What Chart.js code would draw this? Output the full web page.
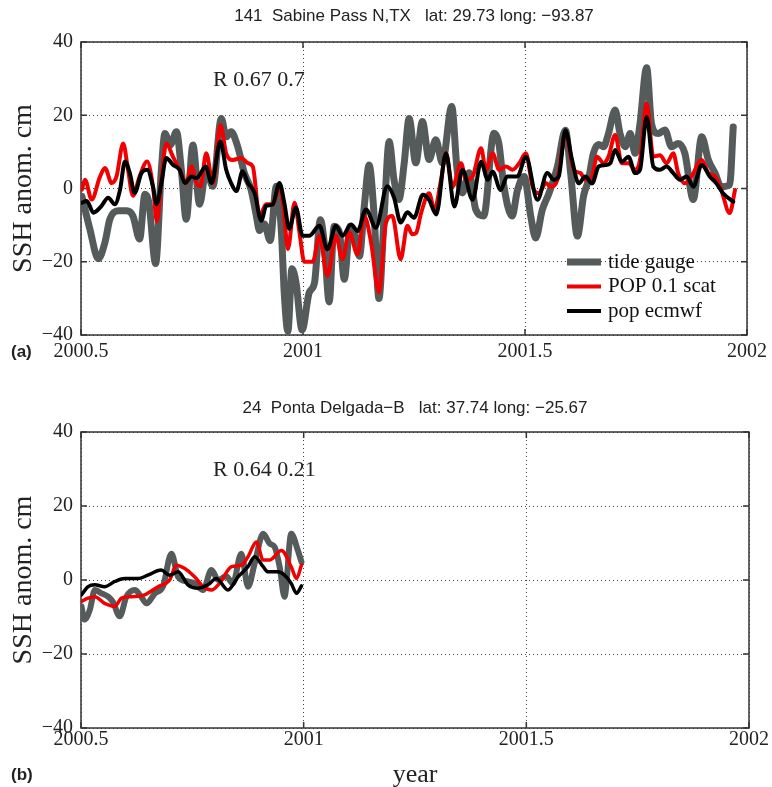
<!DOCTYPE html>
<html>
<head>
<meta charset="utf-8">
<script src="https://cdn.jsdelivr.net/npm/chart.js@4.4.0/dist/chart.umd.min.js"></script>
<style>
  body { margin: 0; background: #fff; }
  .panel { position: absolute; left: 0; width: 772px; }
  #wrapA { top: 0; height: 380px; }
  #wrapB { top: 390px; height: 397px; }
</style>
</head>
<body>
<div class="panel" id="wrapA"><canvas id="chartA" width="772" height="380"></canvas></div>
<div class="panel" id="wrapB"><canvas id="chartB" width="772" height="397"></canvas></div>
<script>
// ---- panel (a): 141 Sabine Pass ----
const sabineGaugeYears = [2000.502, 2000.520, 2000.539, 2000.554, 2000.565, 2000.584, 2000.603, 2000.617, 2000.632, 2000.644, 2000.653, 2000.668, 2000.681, 2000.689, 2000.701, 2000.715, 2000.726, 2000.737, 2000.752, 2000.767, 2000.782, 2000.797, 2000.816, 2000.827, 2000.838, 2000.853, 2000.868, 2000.883, 2000.895, 2000.902, 2000.913, 2000.926, 2000.940, 2000.951, 2000.958, 2000.966, 2000.975, 2000.984, 2000.998, 2001.014, 2001.026, 2001.039, 2001.048, 2001.059, 2001.070, 2001.082, 2001.093, 2001.106, 2001.115, 2001.127, 2001.138, 2001.149, 2001.160, 2001.171, 2001.183, 2001.194, 2001.205, 2001.216, 2001.228, 2001.239, 2001.254, 2001.269, 2001.284, 2001.299, 2001.314, 2001.335, 2001.347, 2001.359, 2001.374, 2001.389, 2001.407, 2001.430, 2001.441, 2001.452, 2001.471, 2001.483, 2001.498, 2001.513, 2001.524, 2001.539, 2001.554, 2001.573, 2001.591, 2001.603, 2001.618, 2001.632, 2001.643, 2001.654, 2001.666, 2001.677, 2001.688, 2001.703, 2001.714, 2001.726, 2001.737, 2001.748, 2001.759, 2001.774, 2001.785, 2001.800, 2001.815, 2001.830, 2001.845, 2001.860, 2001.879, 2001.898, 2001.913, 2001.928, 2001.942, 2001.961, 2001.969];
const sabineGaugeCm = [-2.1, -11.1, -19.2, -14.7, -8.4, -6.1, -6.1, -7.5, -13.8, -1.6, -3.9, -20.5, 5.1, 15.0, 11.9, 15.5, 5.1, -8.4, 11.9, -4.3, 5.1, 0.6, 19.1, 14.1, 15.5, 11.4, 4.2, -0.3, -7.5, -11.5, -9.7, -14.2, 0.6, -11.1, -29, -39, -21.9, -25.5, -38.6, -28.4, -25.7, -8.5, -15, -31, -10.3, -12, -24.8, -10.3, -12, -18.5, -4.9, 6.4, -7, -30, -7, 12.8, 2.4, -3, 7, 19.1, 7.0, 18.3, 7.9, 13.3, 7.0, 22.4, 5.2, -1.2, 4.3, -5.7, -7.5, 15.1, 12.4, 1, -7.5, -0.5, 3.3, -7.6, -13.5, -5.8, -1.3, 6, 15.9, 4, -13, -2, 2.4, 9.6, 12, 11.4, 15, 21.4, 15, 11.4, 15, 9.6, 17.7, 33, 17.7, 15, 16, 11.4, 12.3, 9.6, -3, 14.1, 7.8, 4.2, 0.5, 1, 16.8];

const sabinePopYears = [2000.502, 2000.509, 2000.524, 2000.543, 2000.554, 2000.569, 2000.580, 2000.595, 2000.606, 2000.617, 2000.632, 2000.649, 2000.662, 2000.671, 2000.681, 2000.692, 2000.707, 2000.722, 2000.737, 2000.749, 2000.760, 2000.769, 2000.782, 2000.797, 2000.814, 2000.827, 2000.842, 2000.861, 2000.876, 2000.887, 2000.902, 2000.917, 2000.932, 2000.947, 2000.956, 2000.966, 2000.981, 2000.992, 2001.003, 2001.022, 2001.037, 2001.055, 2001.074, 2001.089, 2001.104, 2001.123, 2001.138, 2001.153, 2001.171, 2001.187, 2001.201, 2001.220, 2001.235, 2001.246, 2001.255, 2001.266, 2001.284, 2001.296, 2001.311, 2001.322, 2001.337, 2001.356, 2001.367, 2001.382, 2001.401, 2001.412, 2001.427, 2001.442, 2001.457, 2001.472, 2001.487, 2001.502, 2001.517, 2001.531, 2001.547, 2001.558, 2001.573, 2001.591, 2001.610, 2001.625, 2001.636, 2001.651, 2001.662, 2001.677, 2001.688, 2001.703, 2001.718, 2001.733, 2001.748, 2001.759, 2001.774, 2001.789, 2001.804, 2001.819, 2001.834, 2001.845, 2001.860, 2001.875, 2001.898, 2001.913, 2001.928, 2001.942, 2001.961, 2001.973];
const sabinePopCm = [-0.3, 2.4, -3, 3.3, 5.6, 1.5, 3.3, 12.3, 5.1, -2, 3.3, 7.4, 0.6, -9, 2.4, 12.3, 8.7, 5.1, 1.5, 6, 1.5, 0.6, 9.6, 1.5, 17.3, 9.6, 7.8, 8.3, 6.9, 6, -7.5, -4.3, -4.3, 0.6, -5, -16.5, -3.9, -12, -20, -20, -12.9, -23.8, -12.9, -19.3, -12, -18, -7.5, -14.5, -28.3, -9.3, -7.5, -19.3, -10.2, -12.5, -12.1, -6.7, -1.3, -5.8, 2.4, 9.6, 0.5, 6.9, 2.4, 3.3, 11, 5.1, 9.6, 5.1, 6, 5.1, 6.9, 9.6, 0.5, -1.3, 1.5, 0.5, 2.4, 15, 5.1, 4.2, 2.4, 3.3, 8.7, 6.9, 8.7, 14.6, 6.9, 6.9, 5.1, 7.8, 23.2, 8.7, 9.1, 6.9, 9.6, 4.2, 1.4, 3.3, 7.8, 4.2, 3.3, -0.4, -6.7, -0.4];

const sabineEcmwfYears = [2000.502, 2000.513, 2000.528, 2000.546, 2000.561, 2000.576, 2000.588, 2000.599, 2000.610, 2000.621, 2000.636, 2000.649, 2000.662, 2000.670, 2000.681, 2000.692, 2000.707, 2000.722, 2000.734, 2000.749, 2000.760, 2000.781, 2000.794, 2000.814, 2000.827, 2000.838, 2000.850, 2000.864, 2000.876, 2000.891, 2000.906, 2000.917, 2000.932, 2000.947, 2000.958, 2000.969, 2000.984, 2000.999, 2001.014, 2001.037, 2001.055, 2001.074, 2001.089, 2001.108, 2001.123, 2001.142, 2001.164, 2001.190, 2001.205, 2001.220, 2001.235, 2001.250, 2001.270, 2001.284, 2001.300, 2001.322, 2001.341, 2001.359, 2001.382, 2001.401, 2001.416, 2001.427, 2001.445, 2001.460, 2001.483, 2001.502, 2001.528, 2001.550, 2001.565, 2001.576, 2001.591, 2001.606, 2001.621, 2001.636, 2001.651, 2001.666, 2001.681, 2001.692, 2001.703, 2001.718, 2001.733, 2001.748, 2001.759, 2001.774, 2001.789, 2001.804, 2001.819, 2001.834, 2001.849, 2001.864, 2001.879, 2001.898, 2001.916, 2001.931, 2001.946, 2001.969];
const sabineEcmwfCm = [-3.9, -3.4, -6.6, -4.8, -2.5, -4.3, -0.3, 7.4, 4.2, -1.2, 4.2, 5.1, 0.6, -4.3, 1.5, 8.3, 6.5, 5.1, 1.5, 3.3, 2.8, 6, 1.5, 12.8, 5.1, 1.5, -0.7, 4.7, 1.5, -1.2, -8.8, -4.8, -4.3, 1.5, -4, -11, -5.2, -12.9, -12.9, -10.2, -16.6, -10.2, -12.9, -9.8, -11.6, -5.7, -10.7, 0.6, -2.5, -9.3, -6.5, -8, -1.7, -3.1, -7.1, 9.6, -4.9, 5.1, -3.1, 7.3, 2.4, 4.6, -0.4, 3.3, 3.3, 8.7, -3.1, 4.2, 2.4, 3.3, 15.9, 7.8, 1.4, 3.3, 1.4, 6, 6.4, 6.9, 10.5, 7.3, 8.7, 4.2, 5.1, 19.5, 6, 5.1, 6, 4.2, 2.4, 3.3, 0.5, 6.4, 3.3, 1.4, -1.3, -3.6];

// ---- panel (b): 24 Ponta Delgada-B ----
const pontaGaugeYears = [2000.501, 2000.508, 2000.520, 2000.531, 2000.546, 2000.561, 2000.572, 2000.587, 2000.602, 2000.621, 2000.635, 2000.647, 2000.666, 2000.684, 2000.703, 2000.718, 2000.740, 2000.755, 2000.774, 2000.793, 2000.808, 2000.826, 2000.841, 2000.860, 2000.875, 2000.890, 2000.909, 2000.924, 2000.935, 2000.946, 2000.957, 2000.972, 2000.987, 2000.995];
const pontaGaugeCm = [-7.1, -10.7, -8, -2.7, -3.6, -4.5, -6, -9.8, -4.5, -2.7, -4.5, -6.3, -3.6, -1.8, 7.1, 0.9, -0.4, -0.9, -2.7, 2.7, 0, 1, -0.9, 7.1, -1.8, 4.5, 12.5, 9.8, 8.9, 3.6, -4.5, 12.5, 8, 4.9];

const pontaPopYears = [2000.501, 2000.516, 2000.531, 2000.553, 2000.576, 2000.591, 2000.613, 2000.643, 2000.673, 2000.699, 2000.714, 2000.733, 2000.755, 2000.774, 2000.793, 2000.811, 2000.838, 2000.860, 2000.875, 2000.894, 2000.909, 2000.924, 2000.950, 2000.972, 2000.984, 2000.995];
const pontaPopCm = [-5.8, -4.9, -4.5, -6.3, -7.1, -4.9, -4.5, -4, -1.8, 0, 4, 3.1, 0.9, -1.8, -2.7, -0.9, 3.6, 4, 6.3, 10.3, 5.4, 5.4, 8, 3.6, 0.4, 4];

const pontaEcmwfYears = [2000.501, 2000.516, 2000.531, 2000.553, 2000.576, 2000.598, 2000.628, 2000.650, 2000.680, 2000.699, 2000.718, 2000.740, 2000.763, 2000.785, 2000.804, 2000.830, 2000.853, 2000.875, 2000.890, 2000.909, 2000.920, 2000.942, 2000.957, 2000.972, 2000.984, 2000.995];
const pontaEcmwfCm = [-4, -1.8, -1.3, -1.8, -0.4, 0.4, 0.4, 1.3, 2.7, 1.3, 2.2, -1.3, -2.2, -1.3, 0.4, -2.7, 0.9, 3.6, 6.3, 3.6, 2.2, 2.2, 1.3, -0.9, -3.6, -1.6];

const seriesLabels = ['tide gauge', 'POP 0.1 scat', 'pop ecmwf'];
const yearTicks = [2000.5, 2001, 2001.5, 2002];
const cmTicks = [-40, -20, 0, 20, 40];

const SERIF = "'Liberation Serif', 'Times New Roman', serif";
const SANS = "'Liberation Sans', Arial, sans-serif";

function pts(xs, ys) {
    return xs.map((x, i) => ({ x: x, y: ys[i] }));
}

// frame, inward ticks, title, panel tag, R text and legend
const panelDecor = {
    id: 'panelDecor',
    beforeDatasetsDraw(chart) {
        const { ctx, chartArea: a, scales: { x, y } } = chart;
        ctx.save();
        ctx.strokeStyle = '#333';
        ctx.lineWidth = 1.5;
        ctx.beginPath();
        x.ticks.forEach(t => {
            const px = x.getPixelForValue(t.value);
            ctx.moveTo(px, a.bottom); ctx.lineTo(px, a.bottom - 6);
            ctx.moveTo(px, a.top); ctx.lineTo(px, a.top + 6);
        });
        y.ticks.forEach(t => {
            const py = y.getPixelForValue(t.value);
            ctx.moveTo(a.left, py); ctx.lineTo(a.left + 6, py);
            ctx.moveTo(a.right, py); ctx.lineTo(a.right - 6, py);
        });
        ctx.stroke();
        ctx.strokeRect(a.left, a.top, a.right - a.left, a.bottom - a.top);
        ctx.restore();
    },
    afterDraw(chart, args, o) {
        const { ctx, chartArea: a } = chart;
        ctx.save();
        ctx.fillStyle = '#222';
        ctx.textBaseline = 'middle';

        ctx.font = '17px ' + SANS;
        ctx.textAlign = 'center';
        ctx.fillText(o.title, (a.left + a.right) / 2, o.titleY);

        ctx.font = 'bold 17px ' + SANS;
        ctx.textAlign = 'left';
        ctx.fillText(o.tag, 11, o.tagY);

        ctx.font = '22px ' + SERIF;
        ctx.fillText(o.rText, a.left + 132, a.top + 38);

        if (o.legend) {
            const lx = a.right - 180;
            let ly = a.bottom - 73;
            ctx.font = '21px ' + SERIF;
            chart.data.datasets.forEach(ds => {
                ctx.strokeStyle = ds.borderColor;
                ctx.lineWidth = ds.borderWidth;
                ctx.beginPath();
                ctx.moveTo(lx, ly);
                ctx.lineTo(lx + 34, ly);
                ctx.stroke();
                ctx.fillStyle = '#111';
                ctx.fillText(ds.label, lx + 41, ly);
                ly += 24.5;
            });
        }
        ctx.restore();
    }
};

function makePanel(canvasId, series, deco, widths, xAxisHeight, xPad, showYear) {
    const colors = ['#555a5a', '#f00000', '#000000'];
    const datasets = series.map((s, i) => ({
        label: seriesLabels[i],
        data: s,
        borderColor: colors[i],
        borderWidth: widths[i],
        pointRadius: 0,
        cubicInterpolationMode: 'monotone',
        borderCapStyle: 'round',
        borderJoinStyle: 'round',
        order: 3 - i
    }));

    return new Chart(document.getElementById(canvasId), {
        type: 'line',
        data: { datasets: datasets },
        plugins: [panelDecor],
        options: {
            responsive: false,
            animation: false,
            parsing: false,
            layout: { padding: { left: 0, top: 42, right: 23, bottom: 0 } },
            plugins: {
                legend: { display: false },
                tooltip: { enabled: false },
                panelDecor: deco
            },
            scales: {
                x: {
                    type: 'linear',
                    min: 2000.5,
                    max: 2002,
                    afterBuildTicks: s => { s.ticks = yearTicks.map(v => ({ value: v })); },
                    afterFit: s => { s.height = xAxisHeight; },
                    ticks: {
                        autoSkip: false,
                        maxRotation: 0,
                        padding: xPad,
                        color: '#222',
                        font: { family: SERIF, size: 20 },
                        callback: v => String(v)
                    },
                    grid: { color: '#444', lineWidth: 1, drawTicks: false },
                    border: { display: false, dash: [1, 3] },
                    title: {
                        display: showYear,
                        text: 'year',
                        color: '#222',
                        font: { family: SERIF, size: 26, lineHeight: 0.9 },
                        padding: { top: 0, bottom: 0 }
                    }
                },
                y: {
                    min: -40,
                    max: 40,
                    afterBuildTicks: s => { s.ticks = cmTicks.map(v => ({ value: v })); },
                    afterFit: s => { s.width = 81; },
                    ticks: {
                        padding: 8,
                        color: '#222',
                        font: { family: SERIF, size: 20 },
                        callback: v => (v < 0 ? '\u2212' + Math.abs(v) : String(v))
                    },
                    grid: { color: '#444', lineWidth: 1, drawTicks: false },
                    border: { display: false, dash: [1, 3] },
                    title: {
                        display: true,
                        text: 'SSH anom. cm',
                        color: '#222',
                        font: { family: SERIF, size: 28, lineHeight: 1 },
                        padding: { top: 10, bottom: 0 }
                    }
                }
            }
        }
    });
}

makePanel('chartA',
    [pts(sabineGaugeYears, sabineGaugeCm), pts(sabinePopYears, sabinePopCm), pts(sabineEcmwfYears, sabineEcmwfCm)],
    { title: '141  Sabine Pass N,TX   lat: 29.73 long: \u221293.87', titleY: 16, tag: '(a)', tagY: 352, rText: 'R 0.67 0.7', legend: true },
    [7, 4, 4], 45, 5, false);

makePanel('chartB',
    [pts(pontaGaugeYears, pontaGaugeCm), pts(pontaPopYears, pontaPopCm), pts(pontaEcmwfYears, pontaEcmwfCm)],
    { title: '24  Ponta Delgada\u2212B   lat: 37.74 long: \u221225.67', titleY: 18, tag: '(b)', tagY: 385, rText: 'R 0.64 0.21', legend: false },
    [6, 3.5, 3.5], 59, 0, true);
</script>
</body>
</html>
